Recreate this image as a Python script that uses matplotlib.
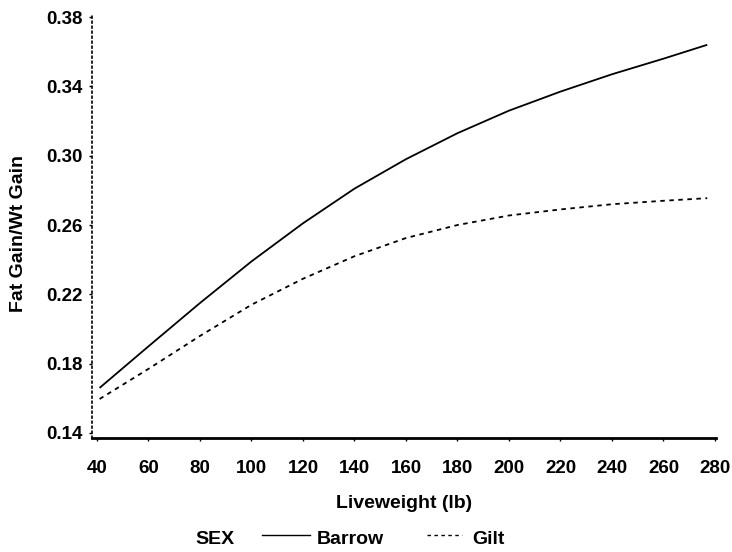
import matplotlib
matplotlib.use("Agg")
import matplotlib.pyplot as plt
from matplotlib.lines import Line2D

# Fat gain / weight gain ratio by liveweight, per sex
liveweight = [41, 60, 80, 100, 120, 140, 160, 180, 200, 220, 240, 260, 277]
barrow = [0.166, 0.190, 0.215, 0.239, 0.261, 0.281, 0.298, 0.313, 0.326, 0.337, 0.347, 0.356, 0.364]
gilt = [0.1596, 0.177, 0.196, 0.214, 0.229, 0.242, 0.2525, 0.260, 0.2655, 0.269, 0.272, 0.274, 0.2755]

x_ticks = list(range(40, 281, 20))
y_ticks = [0.14, 0.18, 0.22, 0.26, 0.30, 0.34, 0.38]

plt.rcParams["font.family"] = ["Liberation Sans", "DejaVu Sans"]
plt.rcParams["font.weight"] = "bold"

W, H = 732, 552
fig = plt.figure(figsize=(W / 100, H / 100), dpi=100)
left, right, top, bottom = 92, 716, 15, 438
ax = fig.add_axes([left / W, 1 - bottom / H, (right - left) / W, (bottom - top) / H])

ax.plot(liveweight, barrow, color="black", lw=1.3, solid_capstyle="butt")
ax.plot(liveweight, gilt, color="black", lw=1.3, linestyle=(0, (2.5, 2.5)))

ax.set_xlim(38.06, 280.4)
ax.set_ylim(0.1371, 0.3812)
ax.set_xticks(x_ticks)
ax.set_yticks(y_ticks)
ax.set_xticklabels([str(v) for v in x_ticks])
ax.set_yticklabels([f"{v:.2f}" for v in y_ticks])

for s in ("top", "right"):
    ax.spines[s].set_visible(False)
ax.spines["left"].set_linestyle((0, (1, 2)))
ax.spines["left"].set_linewidth(1.2)
ax.spines["bottom"].set_linewidth(2.0)

ax.tick_params(axis="x", length=2.5, width=1, pad=13, labelsize=13.5)
ax.tick_params(axis="y", length=2.5, width=1, pad=4, labelsize=13.5)

ax.set_xlabel("Liveweight (lb)", fontsize=14, fontweight="bold")
ax.xaxis.set_label_coords(0.5, -(503 - bottom) / (bottom - top), transform=ax.transAxes)
ax.xaxis.label.set_va("center")
ax.set_ylabel("Fat Gain/Wt Gain", fontsize=14, fontweight="bold")
ax.yaxis.set_label_coords((18.5 - left) / (right - left), 1 - (234 - top) / (bottom - top))
ax.yaxis.label.set_va("center")

# legend row
ly = 1 - 539 / H
fig.text(195 / W, ly, "SEX", fontsize=14, fontweight="bold", va="center", ha="left")
fig.add_artist(Line2D([262 / W, 310 / W], [1 - 535 / H] * 2, color="black", lw=1.0,
                      transform=fig.transFigure))
fig.text(317 / W, ly, "Barrow", fontsize=14, fontweight="bold", va="center", ha="left")
fig.add_artist(Line2D([427 / W, 462 / W], [1 - 535 / H] * 2, color="black", lw=1.0,
                      linestyle=(0, (2.5, 2.5)), transform=fig.transFigure))
fig.text(472 / W, ly, "Gilt", fontsize=14, fontweight="bold", va="center", ha="left")

fig.savefig("out.png", dpi=100)
